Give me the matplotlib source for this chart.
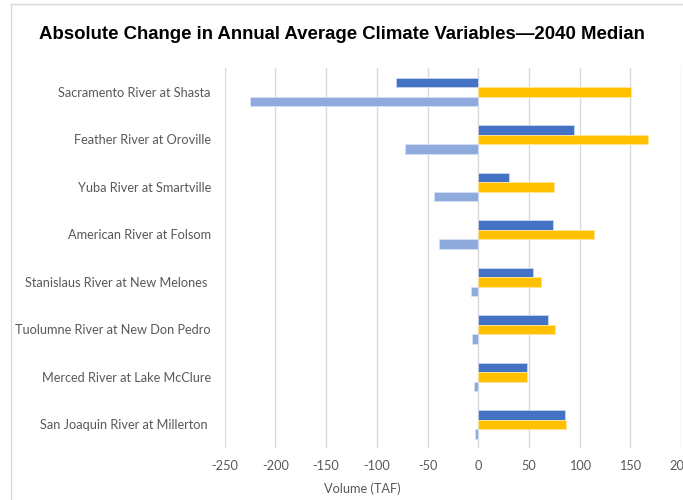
import numpy as np
import matplotlib
matplotlib.use("Agg")
import matplotlib.pyplot as plt
from matplotlib.lines import Line2D

plt.rcParams["axes.unicode_minus"] = False

rivers = ["Sacramento River at Shasta", "Feather River at Oroville", "Yuba River at Smartville",
          "American River at Folsom", "Stanislaus River at New Melones ", "Tuolumne River at New Don Pedro",
          "Merced River at Lake McClure", "San Joaquin River at Millerton "]
series1 = [-81, 94, 30, 74, 54, 69, 48, 86]
series2 = [151, 167, 75, 114, 62, 76, 48, 87]
series3 = [-225, -72, -44, -39, -7, -6, -4.5, -3]
xticks = [-250, -200, -150, -100, -50, 0, 50, 100, 150, 200]

W, H = 683, 500
fig = plt.figure(figsize=(W/100, H/100), dpi=100)
ax = fig.add_axes([224.7/W, 1-448/H, (681-224.7)/W, (448-68)/H])

y = np.arange(len(rivers))
h = 0.2
ax.barh(y-h, series1, height=h, color="#4472C4", edgecolor="#C9D6EE", linewidth=0.6, zorder=3)
ax.barh(y, series2, height=h, color="#FFC000", edgecolor="#FFE699", linewidth=0.6, zorder=3)
ax.barh(y+h, series3, height=h, color="#8FAADC", edgecolor="#D6E0F3", linewidth=0.6, zorder=3)

ax.set_xlim(-250, 200)
ax.set_ylim(len(rivers)-0.5, -0.5)
ax.set_xticks(xticks)
ax.set_yticks(y)
ax.set_yticklabels(rivers)
ax.grid(axis="x", color="#D9D9D9", linewidth=1, zorder=0)
for s in ax.spines.values():
    s.set_visible(False)
ax.tick_params(length=0, colors="#595959", labelsize=9.2)
ax.tick_params(axis="y", pad=10)
ax.tick_params(axis="x", pad=9)
for t in ax.get_xticklabels() + ax.get_yticklabels():
    t.set_fontfamily("Lato")

fig.text(342/W, 1-34/H, "Absolute Change in Annual Average Climate Variables\u20142040 Median",
         ha="center", va="center", fontsize=13.4, fontweight="bold", family="Liberation Sans")
fig.text(362/W, 1-489/H, "Volume (TAF)", ha="center", va="center", fontsize=9.2,
         color="#595959", family="Lato")

# chart frame
fig.add_artist(Line2D([11/W, 1], [1-4/H, 1-4/H], color="#D9D9D9", lw=1, transform=fig.transFigure))
fig.add_artist(Line2D([11/W, 11/W], [0, 1-4/H], color="#D9D9D9", lw=1, transform=fig.transFigure))

fig.savefig("out.png", dpi=100)
